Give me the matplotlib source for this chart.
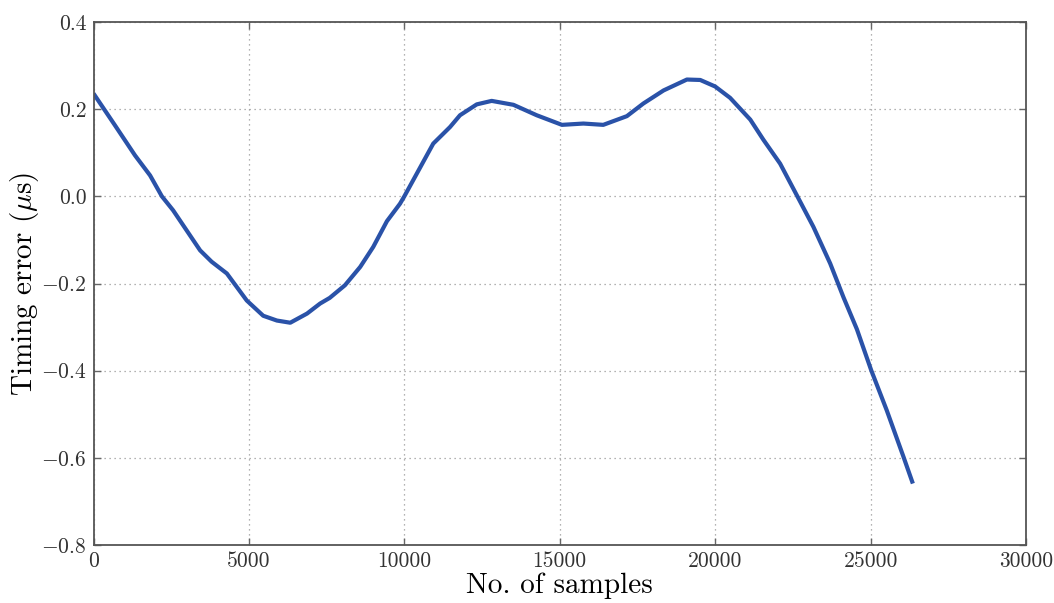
import matplotlib
matplotlib.use("Agg")
import matplotlib.pyplot as plt
import numpy as np

samples = [0, 690, 1335, 1820, 2200, 2560, 3430, 3800, 4290, 4930, 5460, 5900, 6330, 6870, 7290,
           7600, 8090, 8580, 9000, 9440, 9860, 10000, 10400, 10930, 11470, 11790, 12330,
           12810, 13510, 14260, 15070, 15760, 16400, 17160, 17690, 18340, 19090, 19520,
           20000, 20480, 21130, 21550, 22090, 22630, 23160, 23700, 24130, 24560, 25020, 25520,
           26060, 26360]
timing_error = [0.236, 0.163, 0.094, 0.048, 0.0, -0.032, -0.124, -0.150, -0.177, -0.239, -0.274,
                -0.285, -0.290, -0.269, -0.246, -0.233, -0.204, -0.162, -0.116, -0.057, -0.017,
                0.0, 0.052, 0.121, 0.159, 0.186, 0.211, 0.219, 0.210, 0.186, 0.164, 0.167,
                0.164, 0.184, 0.213, 0.243, 0.268, 0.267, 0.252, 0.226, 0.176, 0.130, 0.075,
                0.002, -0.070, -0.154, -0.232, -0.305, -0.399, -0.491, -0.598, -0.659]

xticks = [0, 5000, 10000, 15000, 20000, 25000, 30000]
yticks = [-0.8, -0.6, -0.4, -0.2, 0.0, 0.2, 0.4]

plt.rcParams['font.family'] = 'serif'
plt.rcParams['font.serif'] = ['cmr10']
plt.rcParams['mathtext.fontset'] = 'cm'
plt.rcParams['axes.formatter.use_mathtext'] = True

fig = plt.figure(figsize=(10.54, 6.03), dpi=100)
ax = fig.add_axes([93.5/1054, 1 - 545/603, (1026 - 93.5)/1054, (545 - 22)/603])

ax.plot(samples, timing_error, color='#2a52a8', lw=3.0, solid_capstyle='butt',
        solid_joinstyle='round')

ax.set_xlim(0, 30000)
ax.set_ylim(-0.8, 0.4)
ax.set_xticks(xticks)
ax.set_yticks(yticks)
ax.set_xticklabels([str(t) for t in xticks])
ax.set_yticklabels([("$-$" if t < 0 else "") + f"{abs(t):.1f}" for t in yticks])
ax.grid(True, linestyle=(0, (1, 3)), color='#999999', lw=0.9)
ax.tick_params(direction='in', top=True, right=True, length=5, width=1,
               color='#666666', labelsize=15.5, labelcolor='#333333', pad=5)
for s in ax.spines.values():
    s.set_color('#555555')
    s.set_linewidth(1.3)

ax.set_xlabel('No. of samples', fontsize=21, color='#000000', labelpad=1)
ax.set_ylabel(r'Timing error ($\mu$s)', fontsize=21, color='#000000', labelpad=0)

fig.savefig('out.png', dpi=100)
